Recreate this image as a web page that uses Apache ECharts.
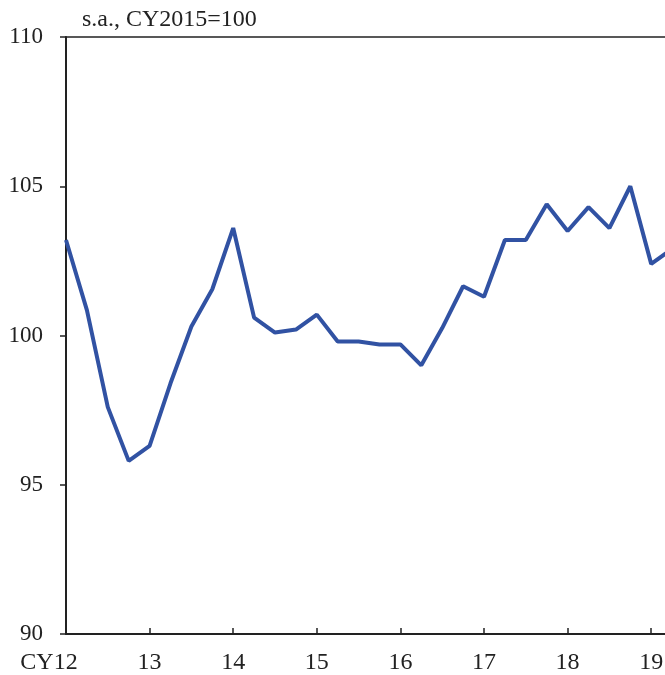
<!DOCTYPE html>
<html>
<head>
<meta charset="utf-8">
<script src="https://cdn.jsdelivr.net/npm/echarts@6/dist/echarts.min.js"></script>
<style>
  html, body { margin: 0; padding: 0; background: #fff; overflow: hidden; }
  #chart { width: 665px; height: 675px; }
</style>
</head>
<body>
<div id="chart"></div>
<script>
// quarterly index, 12Q1 .. 19Q2
var values = [103.2, 100.85, 97.6, 95.8, 96.3, 98.4, 100.3, 101.55,
              103.6, 100.6, 100.1, 100.2, 100.7, 99.8, 99.8, 99.7,
              99.7, 99.0, 100.25, 101.65, 101.3, 103.2, 103.2, 104.4,
              103.5, 104.3, 103.6, 105.0, 102.4, 102.9];
var yearLabels = ['CY12', '13', '14', '15', '16', '17', '18', '19'];
var unitText = 's.a., CY2015=100';

var myChart = echarts.init(document.getElementById('chart'));

var font = 'Liberation Serif';
var option = {
    animation: false,
    title: {
        text: unitText,
        left: 82,
        top: 8,
        padding: 0,
        textStyle: { fontFamily: font, fontSize: 24, fontWeight: 'normal', color: '#222' }
    },
    grid: {
        left: 66,
        top: 37,
        height: 597,
        width: 627,
        outerBoundsMode: 'none'
    },
    xAxis: [{
        type: 'value',
        min: 0,
        max: 30,
        interval: 4,
        axisLine: { lineStyle: { color: '#222', width: 2 } },
        axisTick: { inside: true, length: 6, lineStyle: { color: '#222', width: 1.5 } },
        splitLine: { show: false },
        axisLabel: {
            margin: 17,
            fontFamily: font,
            fontSize: 24,
            color: '#222',
            formatter: function (v) {
                if (v % 4 !== 0) return '';
                var s = yearLabels[v / 4] || '';
                return v === 0 ? '{first|' + s + '}' : s;
            },
            rich: {
                first: { fontFamily: font, fontSize: 24, color: '#222', padding: [0, 34, 0, 0] }
            }
        }
    }, {
        type: 'value',
        position: 'top',
        min: 0,
        max: 30,
        axisLine: { show: true, lineStyle: { color: '#222', width: 1.5 } },
        axisTick: { show: false },
        axisLabel: { show: false },
        splitLine: { show: false }
    }],
    yAxis: {
        type: 'value',
        min: 90,
        max: 110,
        interval: 5,
        axisLine: { show: true, lineStyle: { color: '#222', width: 2 } },
        axisTick: { show: true, length: 6, lineStyle: { color: '#222', width: 1.5 } },
        splitLine: { show: false },
        axisLabel: { margin: 23, fontFamily: font, fontSize: 23, color: '#222' }
    },
    series: [{
        type: 'line',
        data: values.map(function (v, i) { return [i, v]; }),
        showSymbol: false,
        lineStyle: { color: '#3152a3', width: 4 },
        clip: false
    }]
};

myChart.setOption(option);
</script>
</body>
</html>
